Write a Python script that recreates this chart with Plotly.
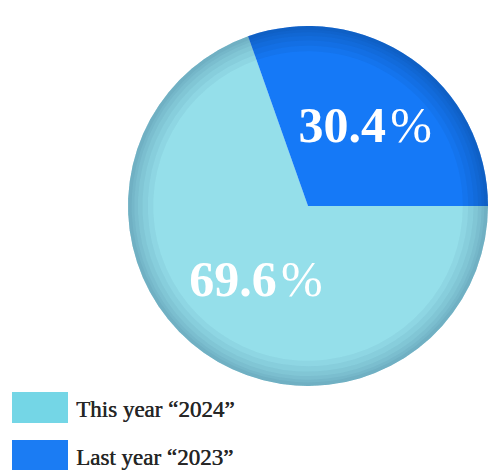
import plotly.graph_objects as go

# Share of responses by year
labels = ["This year \u201c2024\u201d", "Last year \u201c2023\u201d"]
shares = [69.6, 30.4]
slice_colors = ["#95DFEA", "#1579F7"]
swatch_colors = ["#74D6E6", "#1B7CF3"]

W, H = 488, 470
pie_domain = dict(x=[128 / W, 1.0], y=[(H - 386) / H, (H - 26) / H])

fig = go.Figure()

fig.add_trace(go.Pie(
    labels=labels,
    values=shares,
    sort=False,
    direction="clockwise",
    rotation=90,
    marker=dict(colors=slice_colors, line=dict(width=0)),
    texttemplate="<b>%{value:.1f}</b>\u200a%",
    textposition="inside",
    insidetextorientation="horizontal",
    textfont=dict(family="Liberation Serif", size=50, color="white"),
    hoverinfo="label+percent",
    showlegend=False,
    domain=pie_domain,
))

# Soft darkening towards the rim: stacked translucent rings over the same slices
rim_shades = ["rgba(10,60,90,0.05)", "rgba(10,50,110,0.07)"]
for hole in [0.86, 0.89, 0.92, 0.945, 0.965, 0.98]:
    fig.add_trace(go.Pie(
        labels=labels,
        values=shares,
        sort=False,
        direction="clockwise",
        rotation=90,
        hole=hole,
        marker=dict(colors=rim_shades, line=dict(width=0)),
        textinfo="none",
        hoverinfo="skip",
        showlegend=False,
        domain=pie_domain,
    ))

# Legend: large colour swatches with labels beside them
row_tops = [392, 440]
for lab, col, top in zip(labels, swatch_colors, row_tops):
    fig.add_shape(
        type="rect", xref="paper", yref="paper",
        x0=12 / W, x1=68 / W, y0=1 - (top + 31) / H, y1=1 - top / H,
        fillcolor=col, line=dict(width=0), layer="above",
    )
    fig.add_annotation(
        x=74 / W, y=1 - (top + 17) / H, xref="paper", yref="paper",
        text=lab, showarrow=False, xanchor="left", yanchor="middle",
        font=dict(family="Liberation Serif", size=23, color="#262626",
                  shadow="0.5px 0 0 #262626"),
    )

fig.update_layout(
    width=W, height=H,
    margin=dict(l=0, r=0, t=0, b=0),
    paper_bgcolor="white",
    plot_bgcolor="white",
)

fig.write_html("out.html")
